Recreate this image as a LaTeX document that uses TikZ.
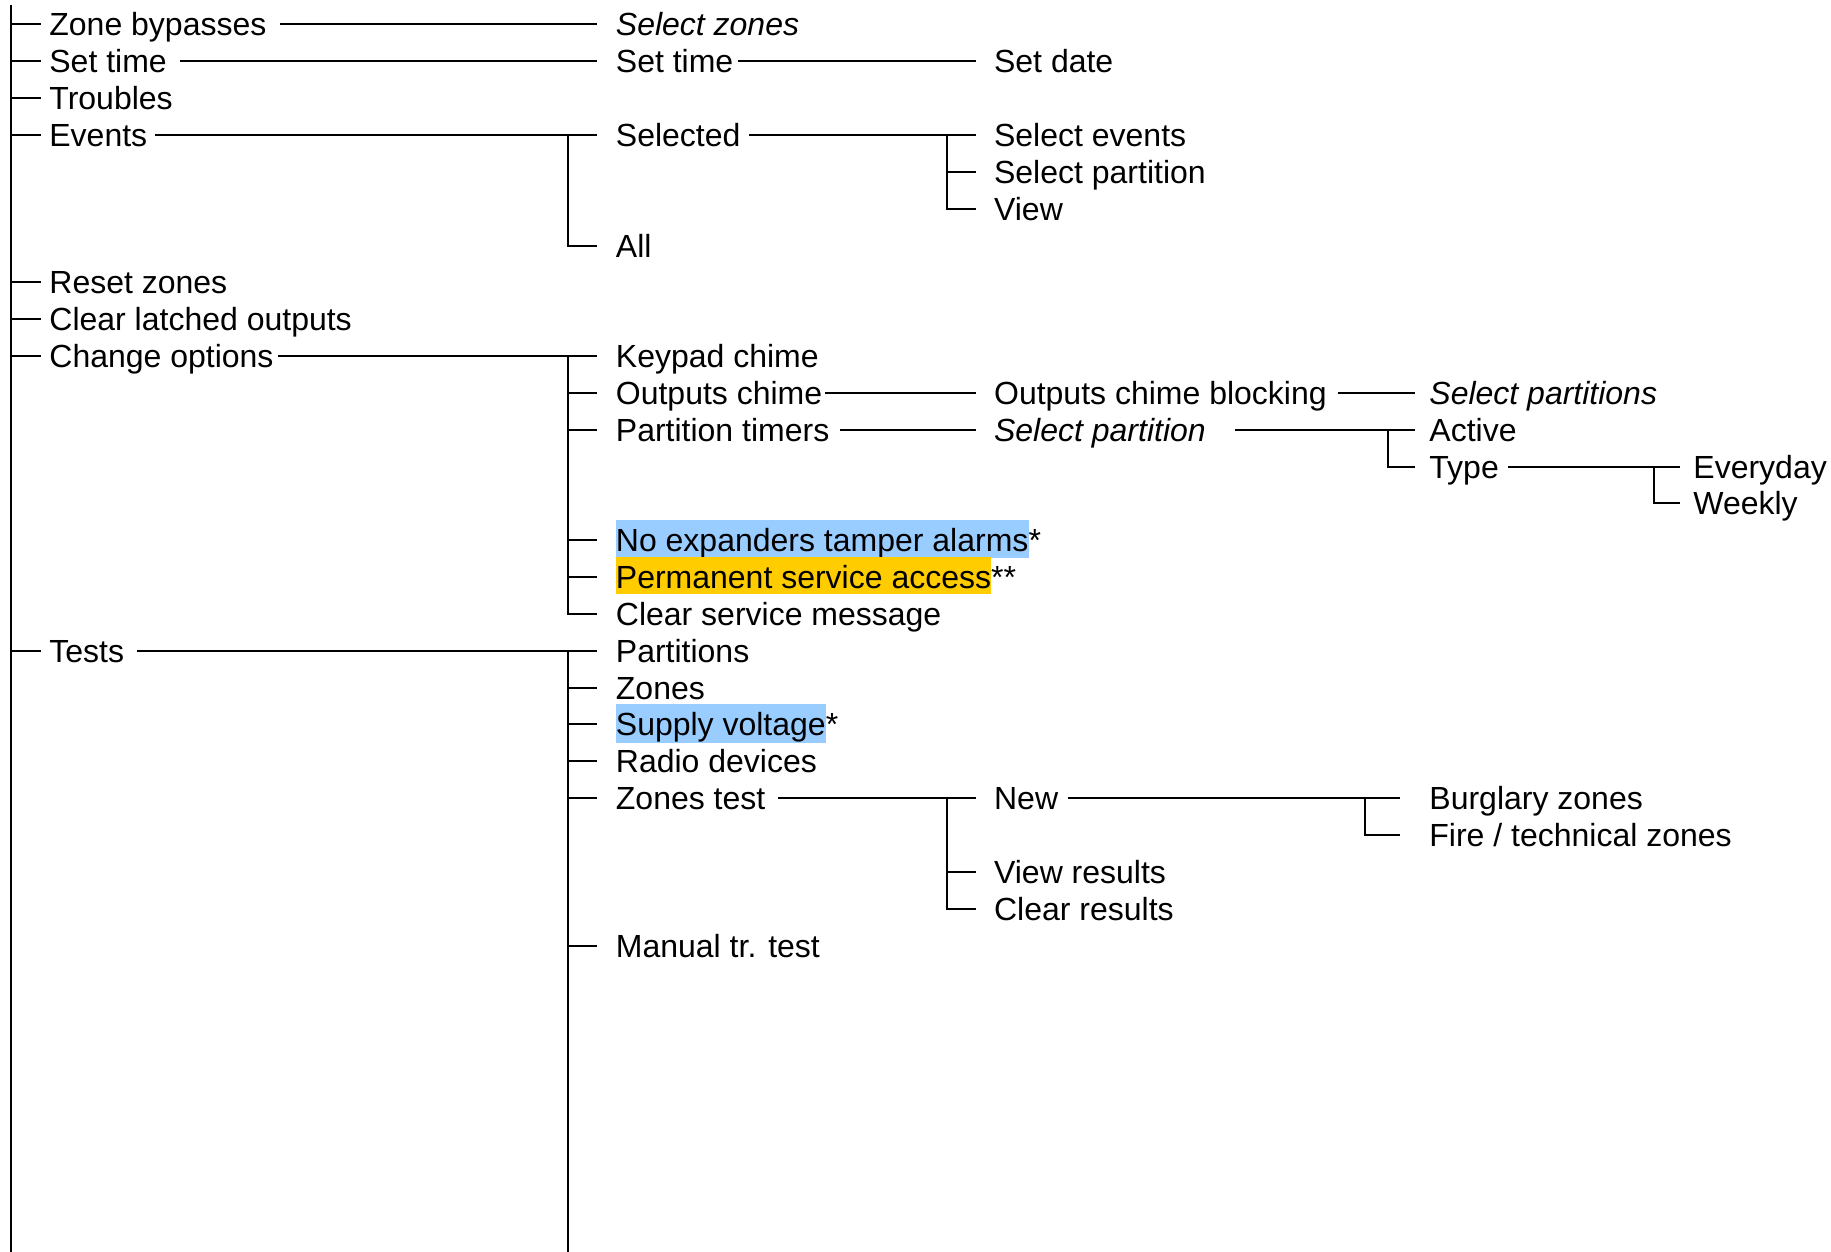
\documentclass[tikz,border=0pt]{standalone}
\usepackage{fontspec}
\setmainfont{Liberation Sans}
\usetikzlibrary{calc}
\definecolor{hlblue}{RGB}{153,204,255}
\definecolor{hlorange}{RGB}{255,204,0}
\newcommand\rowy[1]{24.5+36.84*#1}
\newcommand\hlt[2]{{\setlength{\fboxsep}{0pt}\colorbox{#1}{\rule[-2.5pt]{0pt}{18.25pt}#2}}}
\tikzset{
  itm/.style={anchor=west, inner sep=0pt, text height=14.5pt, text depth=3pt},
  conn/.style={draw=black, line width=1pt},
}
\begin{document}
\begin{tikzpicture}[x=0.5pt, y=-0.5pt, font=\fontsize{16pt}{18pt}\selectfont]
\useasboundingbox (0,0) rectangle (1831,1252);
% column A
\node[itm] (a1) at (49,{\rowy{0}}) {Zone bypasses};
\node[itm] (a2) at (49,{\rowy{1}}) {Set time};
\node[itm] (a3) at (49,{\rowy{2}}) {Troubles};
\node[itm] (a4) at (49,{\rowy{3}}) {Events};
\node[itm] (a5) at (49,{\rowy{7}}) {Reset zones};
\node[itm] (a6) at (49,{\rowy{8}}) {Clear latched outputs};
\node[itm] (a7) at (49,{\rowy{9}}) {Change options};
\node[itm] (a8) at (49,{\rowy{17}}) {Tests};
% column B
\node[itm] (b1) at (615.5,{\rowy{0}}) {\itshape Select zones};
\node[itm] (b2) at (615.5,{\rowy{1}}) {Set time};
\node[itm] (b3) at (615.5,{\rowy{3}}) {Selected};
\node[itm] (b4) at (615.5,{\rowy{6}}) {All};
\node[itm] (b5) at (615.5,{\rowy{9}}) {Keypad chime};
\node[itm] (b6) at (615.5,{\rowy{10}}) {Outputs chime};
\node[itm] (b7) at (615.5,{\rowy{11}}) {Partition timers};
\node[itm] (b8) at (615.5,{\rowy{14}}) {\hlt{hlblue}{No expanders tamper alarms}*};
\node[itm] (b9) at (615.5,{\rowy{15}}) {\hlt{hlorange}{Permanent service access}**};
\node[itm] (b10) at (615.5,{\rowy{16}}) {Clear service message};
\node[itm] (b11) at (615.5,{\rowy{17}}) {Partitions};
\node[itm] (b12) at (615.5,{\rowy{18}}) {Zones};
\node[itm] (b13) at (615.5,{\rowy{19}}) {\hlt{hlblue}{Supply voltage}*};
\node[itm] (b14) at (615.5,{\rowy{20}}) {Radio devices};
\node[itm] (b15) at (615.5,{\rowy{21}}) {Zones test};
\node[itm] (b16) at (615.5,{\rowy{25}}) {Manual tr. test};
% column C
\node[itm] (c1) at (993.7,{\rowy{1}}) {Set date};
\node[itm] (c2) at (993.7,{\rowy{3}}) {Select events};
\node[itm] (c3) at (993.7,{\rowy{4}}) {Select partition};
\node[itm] (c4) at (993.7,{\rowy{5}}) {View};
\node[itm] (c5) at (993.7,{\rowy{10}}) {Outputs chime blocking};
\node[itm] (c6) at (993.7,{\rowy{11}}) {\itshape Select partition};
\node[itm] (c7) at (993.7,{\rowy{21}}) {New};
\node[itm] (c8) at (993.7,{\rowy{23}}) {View results};
\node[itm] (c9) at (993.7,{\rowy{24}}) {Clear results};
% column D
\node[itm] (d1) at (1429,{\rowy{10}}) {\itshape Select partitions};
\node[itm] (d2) at (1429,{\rowy{11}}) {Active};
\node[itm] (d3) at (1429,{\rowy{12}}) {Type};
\node[itm] (d4) at (1429,{\rowy{21}}) {Burglary zones};
\node[itm] (d5) at (1429,{\rowy{22}}) {Fire / technical zones};
% column E
\node[itm] (e1) at (1693,{\rowy{12}}) {Everyday};
\node[itm] (e2) at (1693,{\rowy{13}}) {Weekly};
% bus coordinates
\coordinate (rt) at (10.5,5);
\coordinate (rb) at (10.5,1252);
\coordinate (busB) at (567.5,0);
\coordinate (tbot) at (567.5,1252);
\coordinate (busC) at (947,0);
\coordinate (busD) at (1388,0);
\coordinate (busDn) at (1365,0);
\coordinate (busE) at (1653.5,0);
% root
\draw[conn] (rt) -- (rb);
\foreach \n in {a1,a2,a3,a4,a5,a6,a7,a8}
  \draw[conn] (rt |- \n.west) -- ($(\n.west)+(-8,0)$);
% zone bypasses, set time
\draw[conn] ($(a1.east)+(13,0)$) -- ($(b1.west)+(-18.5,0)$);
\draw[conn] ($(a2.east)+(12.5,0)$) -- ($(b2.west)+(-18.5,0)$);
\draw[conn] ($(b2.east)+(4,0)$) -- ($(c1.west)+(-17.7,0)$);
% events
\draw[conn] ($(a4.east)+(7.5,0)$) -- ($(b3.west)+(-18.5,0)$);
\draw[conn] (busB |- b3.west) -- (busB |- b4.west) -- ($(b4.west)+(-18.5,0)$);
\draw[conn] ($(b3.east)+(8,0)$) -- ($(c2.west)+(-17.7,0)$);
\draw[conn] (busC |- c2.west) -- (busC |- c4.west) -- ($(c4.west)+(-17.7,0)$);
\draw[conn] (busC |- c3.west) -- ($(c3.west)+(-17.7,0)$);
% change options
\draw[conn] ($(a7.east)+(4,0)$) -- ($(b5.west)+(-18.5,0)$);
\draw[conn] (busB |- b5.west) -- (busB |- b10.west) -- ($(b10.west)+(-18.5,0)$);
\foreach \n in {b6,b7,b8,b9}
  \draw[conn] (busB |- \n.west) -- ($(\n.west)+(-18.5,0)$);
\draw[conn] ($(b6.east)+(2.5,0)$) -- ($(c5.west)+(-17.7,0)$);
\draw[conn] ($(c5.east)+(10.5,0)$) -- ($(d1.west)+(-14,0)$);
\draw[conn] ($(b7.east)+(10,0)$) -- ($(c6.west)+(-17.7,0)$);
\draw[conn] ($(c6.east)+(29,0)$) -- ($(d2.west)+(-14,0)$);
\draw[conn] (busD |- d2.west) -- (busD |- d3.west) -- ($(d3.west)+(-14,0)$);
\draw[conn] ($(d3.east)+(9,0)$) -- ($(e1.west)+(-13,0)$);
\draw[conn] (busE |- e1.west) -- (busE |- e2.west) -- ($(e2.west)+(-13,0)$);
% tests
\draw[conn] ($(a8.east)+(13,0)$) -- ($(b11.west)+(-18.5,0)$);
\draw[conn] (busB |- b11.west) -- (tbot);
\foreach \n in {b12,b13,b14,b15,b16}
  \draw[conn] (busB |- \n.west) -- ($(\n.west)+(-18.5,0)$);
\draw[conn] ($(b15.east)+(12.5,0)$) -- ($(c7.west)+(-17.7,0)$);
\draw[conn] (busC |- c7.west) -- (busC |- c9.west) -- ($(c9.west)+(-17.7,0)$);
\draw[conn] (busC |- c8.west) -- ($(c8.west)+(-17.7,0)$);
\draw[conn] ($(c7.east)+(9,0)$) -- ($(d4.west)+(-29,0)$);
\draw[conn] (busDn |- d4.west) -- (busDn |- d5.west) -- ($(d5.west)+(-29,0)$);
\end{tikzpicture}
\end{document}
